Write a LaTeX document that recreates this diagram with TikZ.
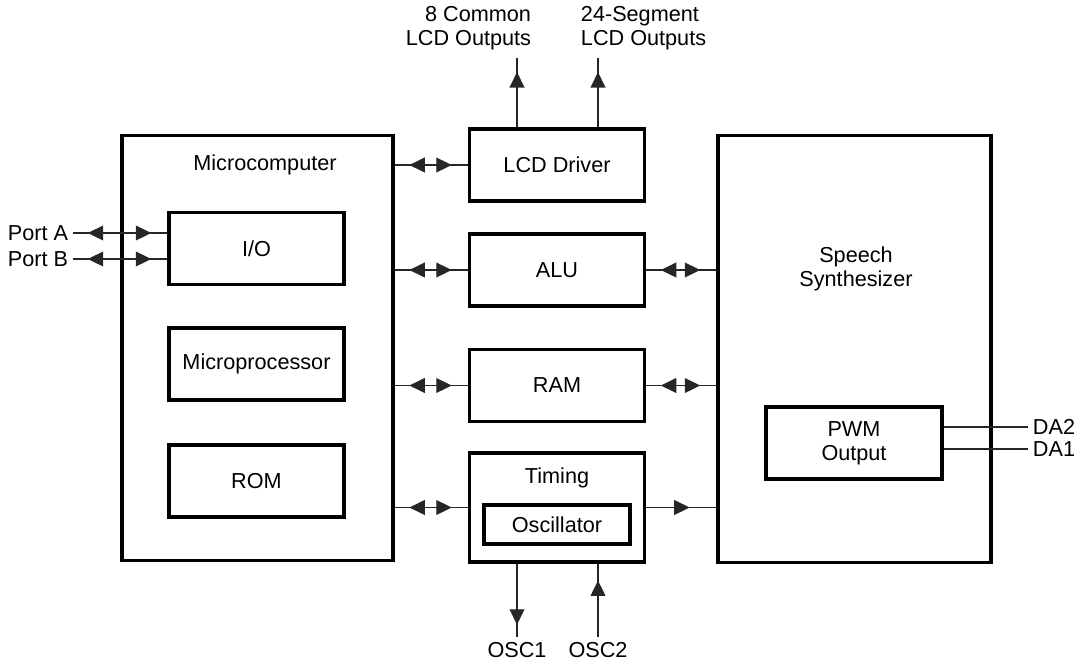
\documentclass[tikz,border=0pt]{standalone}
\usepackage{fontspec}
\setmainfont{Liberation Sans}
\usetikzlibrary{arrows.meta,decorations.markings}

\tikzset{
  box/.style={draw, line width=2.2pt, inner sep=0pt, align=center},
  midbox/.style={box, minimum width=4.375cm, minimum height=1.8cm},
  conn/.style={draw=black!85, line width=0.9pt},
  bothway/.style={conn, postaction={decorate}, decoration={markings,
      mark=at position 10.5pt with {\arrowreversed{>}},
      mark=at position -11.5pt with {\arrow{>}}}},
  oneway/.style={conn, postaction={decorate}, decoration={markings,
      mark=at position #1 with {\arrow{>}}}},
}

\begin{document}
\begin{tikzpicture}[x=0.025cm, y=-0.025cm, >={Triangle[length=11pt,width=10.5pt]},
    every node/.style={font=\fontsize{15.4}{17}\selectfont}]
    \useasboundingbox (0,0) rectangle (1087,666);

    % Microcomputer block
    \node[box, minimum width=6.775cm, minimum height=10.6cm] (micro) at (257.5,348) {};
    \node (microlbl) at (265,165) {Microcomputer};
    \node[midbox] (io) at (256.5,248.5) {I/O};
    \node[midbox] (mproc) at (256.5,364) {Microprocessor};
    \node[midbox] (rom) at (256.5,481) {ROM};

    % middle column
    \node[midbox] (lcd) at (557,165) {LCD Driver};
    \node[midbox] (alu) at (557,270) {ALU};
    \node[midbox] (ram) at (557,385.5) {RAM};
    \node[box, minimum width=4.375cm, minimum height=2.725cm] (timing) at (557,507.5) {};
    \node (timinglbl) at (557,478) {Timing};
    \node[box, minimum width=3.65cm, minimum height=0.975cm] (osc) at (557,524.5) {Oscillator};

    % Speech synthesizer block
    \node[box, minimum width=6.825cm, minimum height=10.65cm] (speech) at (854.5,349) {};
    \node[align=center] (speechlbl) at (856,269) {Speech\\Synthesizer};
    \node[box, minimum width=4.4cm, minimum height=1.8cm] (pwm) at (854,443) {PWM\\Output};

    % outside labels
    \node[anchor=east] (porta) at (73,233) {Port A};
    \node[anchor=east] (portb) at (73,259) {Port B};
    \node[align=right, anchor=east] (comout) at (536,28) {8 Common\\LCD Outputs};
    \node[align=left, anchor=west] (segout) at (576,28) {24-Segment\\LCD Outputs};
    \node (osc1) at (517,650) {OSC1};
    \node (osc2) at (598,650) {OSC2};
    \node[anchor=west] (da2) at (1028,427) {DA2};
    \node[anchor=west] (da1) at (1028,449) {DA1};
    \coordinate (comtop) at (517,58);
    \coordinate (segtop) at (598,58);

    % bus connections
    \draw[bothway] (porta.east) -- (io.west |- porta);
    \draw[bothway] (portb.east) -- (io.west |- portb);
    \draw[bothway] (micro.east |- lcd) -- (lcd.west);
    \draw[bothway] (micro.east |- alu) -- (alu.west);
    \draw[bothway] (micro.east |- ram) -- (ram.west);
    \draw[bothway] (micro.east |- timing) -- (timing.west);
    \draw[bothway] (alu.east) -- (speech.west |- alu);
    \draw[bothway] (ram.east) -- (speech.west |- ram);
    \draw[oneway=-19pt] (timing.east) -- (speech.west |- timing);

    % LCD outputs
    \draw[oneway=-10pt] (lcd.north -| comtop) -- (comtop);
    \draw[oneway=-10pt] (lcd.north -| segtop) -- (segtop);

    % oscillator pins
    \draw[oneway=-9pt] (timing.south -| osc1) -- (osc1.north);
    \draw[oneway=-12pt] (osc2.north) -- (timing.south -| osc2);

    % PWM outputs
    \draw[conn] (pwm.east |- da2) -- (da2.west);
    \draw[conn] (pwm.east |- da1) -- (da1.west);
\end{tikzpicture}
\end{document}
